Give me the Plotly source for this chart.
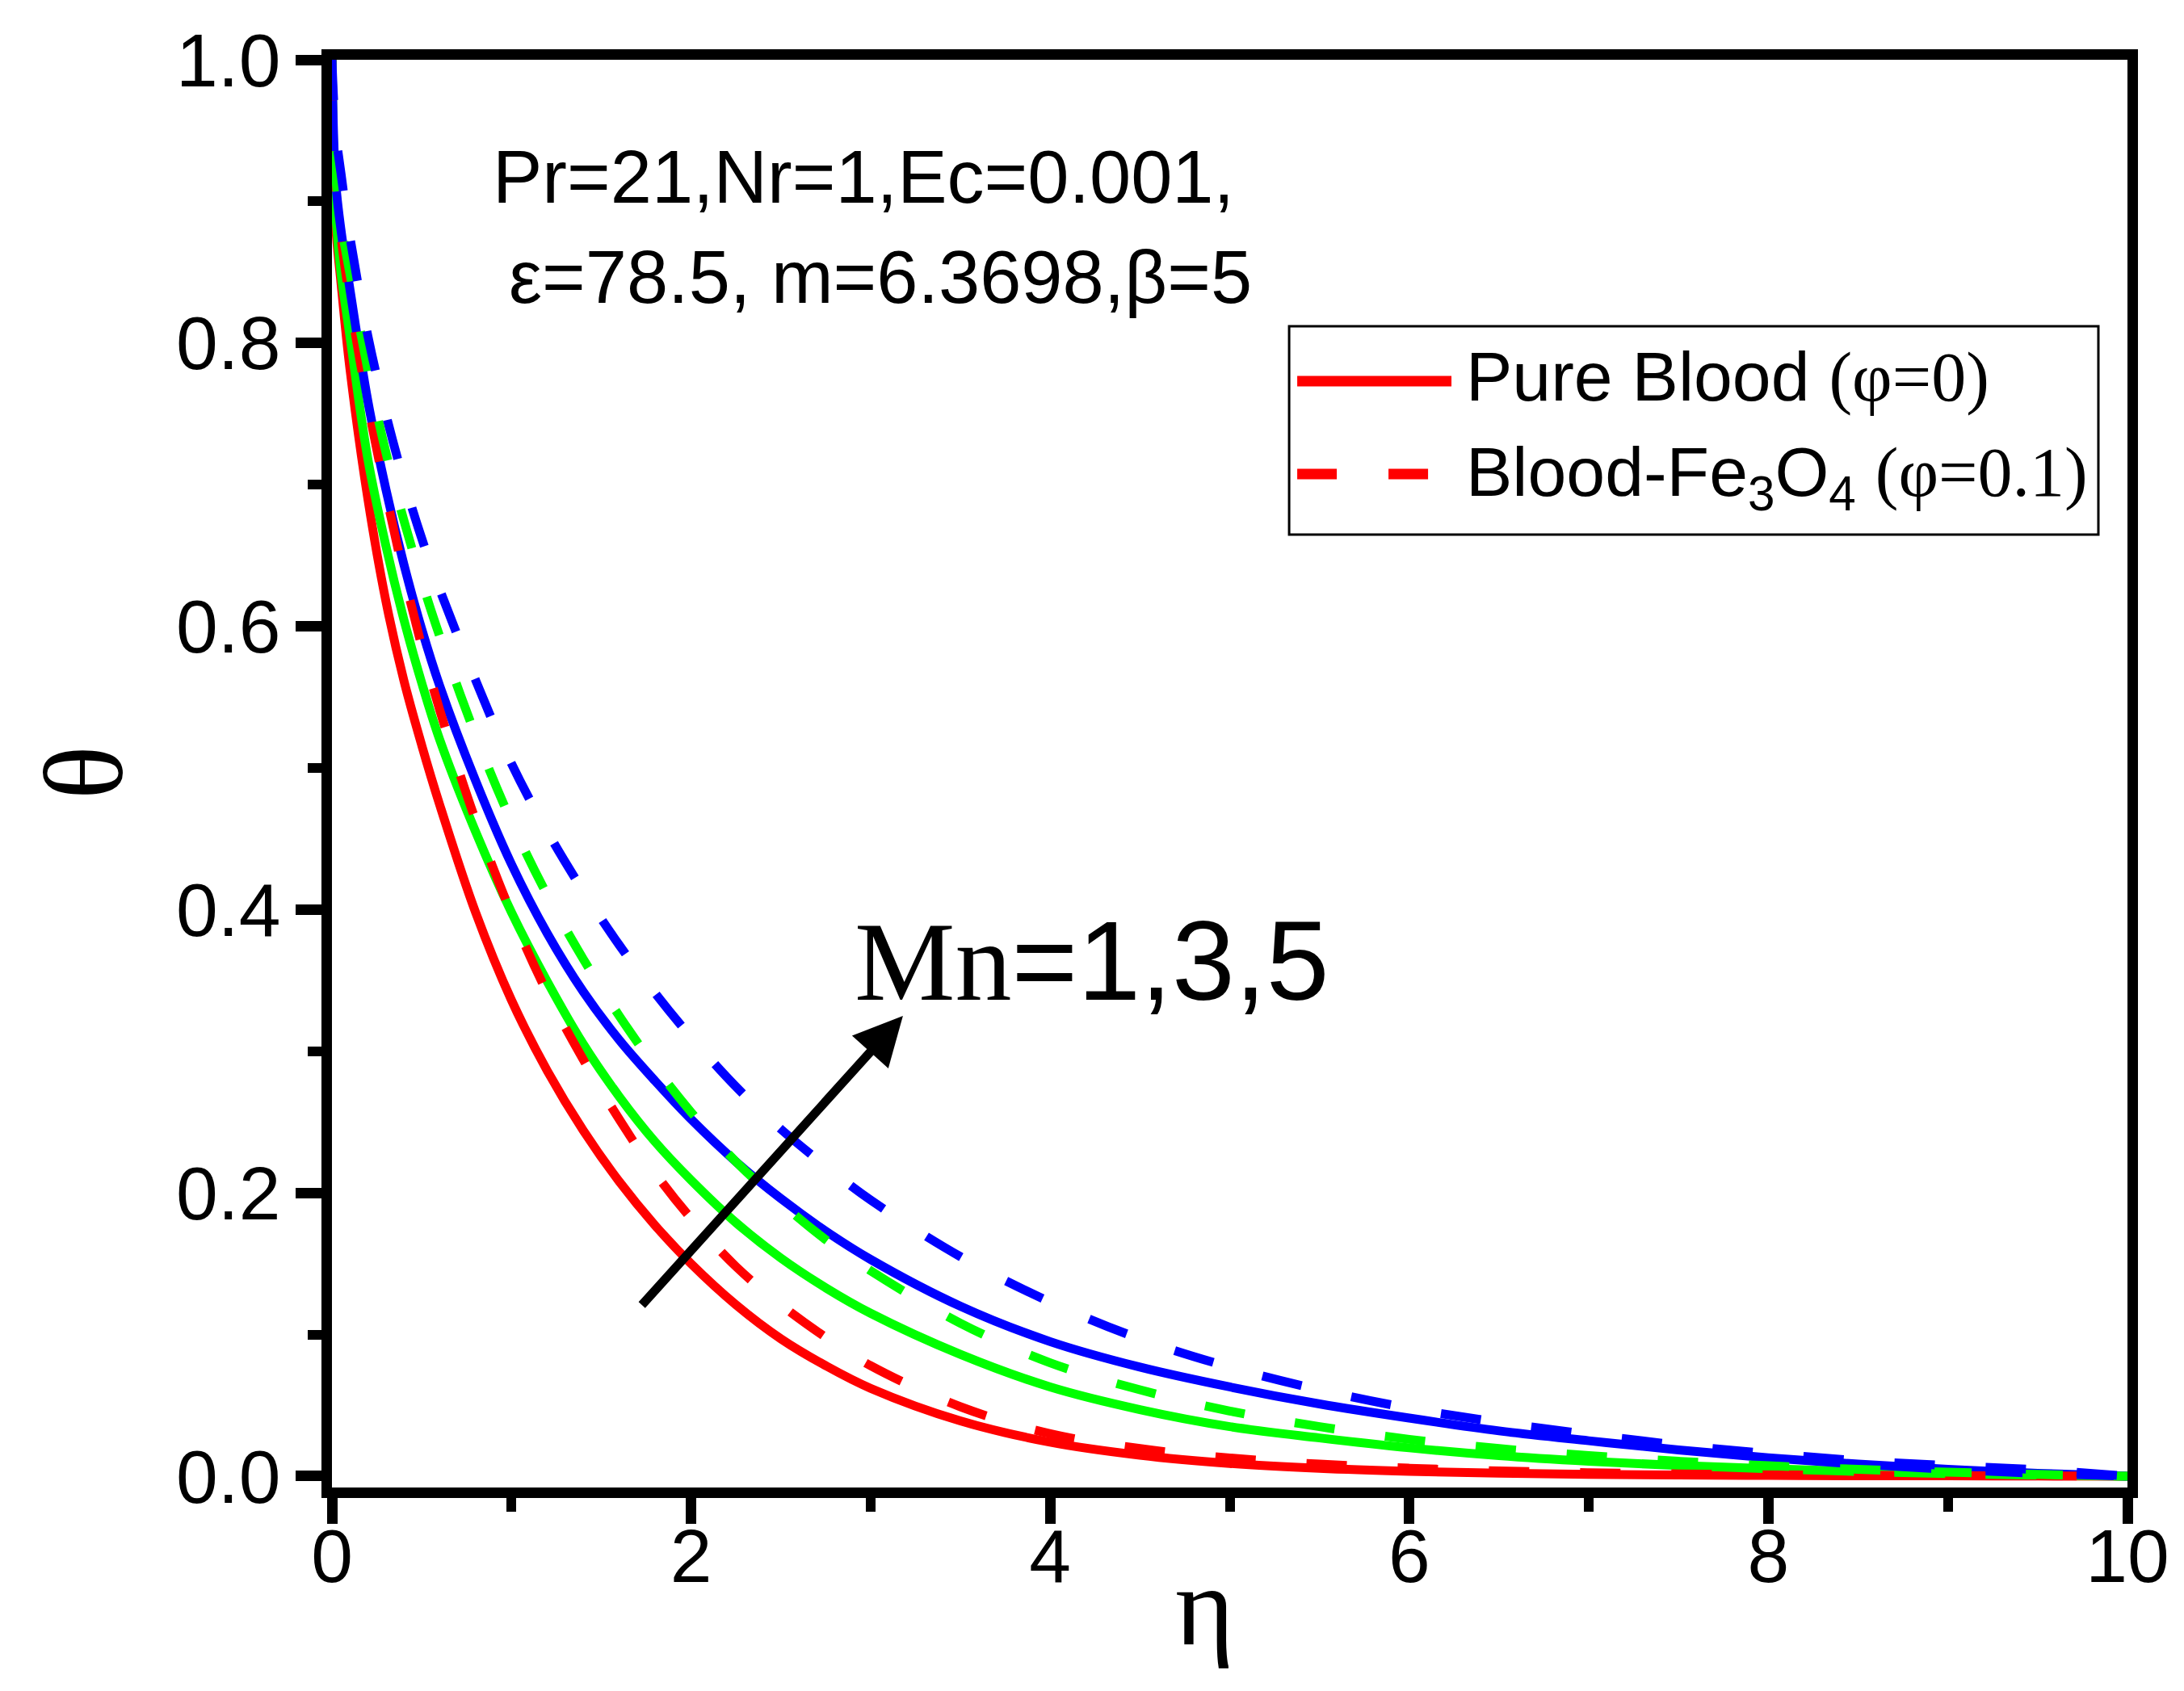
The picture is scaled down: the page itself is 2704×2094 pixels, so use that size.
import plotly.graph_objects as go

# eta grid and temperature profiles
eta = [0, 0.02, 0.05, 0.1, 0.2, 0.3, 0.4, 0.5, 0.6, 0.8, 1.0, 1.2, 1.4, 1.6, 1.8,
       2.0, 2.25, 2.5, 2.75, 3.0, 3.5, 4.0, 4.5, 5.0, 5.5, 6.0, 6.5, 7.0, 7.5,
       8.0, 8.5, 9.0, 9.5, 10.0]

# pure blood (phi=0), Mn = 1, 3, 5
theta_pure_mn1 = [1.0, 0.885, 0.843, 0.782, 0.69, 0.618, 0.562, 0.516, 0.474, 0.398,
                  0.336, 0.286, 0.244, 0.208, 0.177, 0.150, 0.121, 0.097, 0.078, 0.062,
                  0.039, 0.024, 0.0148, 0.009, 0.0055, 0.0034, 0.0021, 0.0013, 0.0008,
                  0.0005, 0.0003, 0.0002, 0.0001, 0.0]
theta_pure_mn3 = [1.0, 0.895, 0.85, 0.805, 0.718, 0.657, 0.605, 0.56, 0.52, 0.455,
                  0.398, 0.349, 0.305, 0.268, 0.236, 0.209, 0.179, 0.154, 0.133, 0.115,
                  0.086, 0.063, 0.047, 0.035, 0.027, 0.020, 0.0145, 0.0105, 0.0075,
                  0.0052, 0.0033, 0.0018, 0.0008, 0.0]
theta_pure_mn5 = [1.0, 0.915, 0.88, 0.838, 0.759, 0.697, 0.644, 0.598, 0.558, 0.491,
                  0.432, 0.383, 0.342, 0.308, 0.279, 0.252, 0.222, 0.196, 0.173, 0.153,
                  0.12, 0.095, 0.077, 0.063, 0.051, 0.041, 0.032, 0.025, 0.0185,
                  0.013, 0.0085, 0.0048, 0.002, 0.0]

# blood-Fe3O4 (phi=0.1), Mn = 1, 3, 5
theta_fe_mn1 = [1.0, 0.91, 0.875, 0.83, 0.757, 0.694, 0.637, 0.586, 0.541, 0.463,
                0.397, 0.341, 0.294, 0.252, 0.214, 0.182, 0.148, 0.121, 0.098, 0.078,
                0.049, 0.030, 0.0195, 0.0128, 0.0085, 0.0056, 0.0037, 0.0024, 0.0016,
                0.001, 0.0006, 0.0004, 0.0002, 0.0]
theta_fe_mn3 = [1.0, 0.92, 0.885, 0.849, 0.781, 0.723, 0.675, 0.632, 0.593, 0.523,
                0.462, 0.41, 0.365, 0.325, 0.289, 0.257, 0.222, 0.193, 0.167, 0.145,
                0.108, 0.080, 0.061, 0.046, 0.035, 0.026, 0.0195, 0.0145, 0.0105,
                0.0074, 0.0048, 0.0028, 0.0012, 0.0]
theta_fe_mn5 = [1.0, 0.95, 0.92, 0.875, 0.805, 0.75, 0.703, 0.662, 0.626, 0.562,
                0.503, 0.455, 0.413, 0.375, 0.341, 0.31, 0.275, 0.245, 0.219, 0.195,
                0.155, 0.123, 0.097, 0.077, 0.061, 0.048, 0.038, 0.0295, 0.022,
                0.016, 0.011, 0.0075, 0.0045, 0.0]

colors = ['#FF0000', '#00FF00', '#0000FF']
solid_series = [theta_pure_mn1, theta_pure_mn3, theta_pure_mn5]
dash_series = [theta_fe_mn1, theta_fe_mn3, theta_fe_mn5]
mn_labels = ['1', '3', '5']

SANS = 'Liberation Sans, Arial, sans-serif'
SERIF = 'Liberation Serif, Times New Roman, serif'
DASH = '50px,63px'
LW = 11

fig = go.Figure()

for i in range(3):
    fig.add_trace(go.Scatter(x=eta, y=solid_series[i], mode='lines',
                             name='Pure Blood, Mn=' + mn_labels[i],
                             line=dict(color=colors[i], width=LW, shape='spline', smoothing=1.0)))
for i in range(3):
    fig.add_trace(go.Scatter(x=eta, y=dash_series[i], mode='lines',
                             name='Blood-Fe3O4, Mn=' + mn_labels[i],
                             line=dict(color=colors[i], width=LW, dash=DASH,
                                       shape='spline', smoothing=1.0)))

axis_style = dict(
    showline=True, linewidth=13, linecolor='black', mirror=True,
    showgrid=False, zeroline=False,
    ticks='outside', ticklen=32, tickwidth=13, tickcolor='black',
    tickfont=dict(family=SANS, size=93, color='black'),
)

fig.update_xaxes(range=[0, 10], tickvals=[0, 2, 4, 6, 8, 10],
                 ticklabelstandoff=-40,
                 minor=dict(ticks='outside', ticklen=17, tickwidth=12,
                            tickcolor='black', tickvals=[1, 3, 5, 7, 9]),
                 **axis_style)
fig.update_yaxes(range=[-0.008, 1.0], tickvals=[0, 0.2, 0.4, 0.6, 0.8, 1.0],
                 ticktext=['0.0', '0.2', '0.4', '0.6', '0.8', '1.0'],
                 minor=dict(ticks='outside', ticklen=17, tickwidth=12,
                            tickcolor='black', tickvals=[0.1, 0.3, 0.5, 0.7, 0.9]),
                 **axis_style)

annotations = [
    # axis titles
    dict(x=0.486, y=-0.083, xref='paper', yref='paper', text='η', showarrow=False,
         font=dict(family=SERIF, size=140), xanchor='center', yanchor='middle'),
    dict(x=-0.138, y=0.5006, xref='paper', yref='paper', text='θ', showarrow=False,
         textangle=-90, font=dict(family=SERIF, size=140), xanchor='center', yanchor='middle'),
    # parameter text
    dict(x=0.0888, y=0.918, xref='paper', yref='paper', text='Pr=21,Nr=1,Ec=0.001,',
         showarrow=False, font=dict(family=SANS, size=92), xanchor='left', yanchor='middle'),
    dict(x=0.0978, y=0.848, xref='paper', yref='paper', text='ε=78.5, m=6.3698,β=5',
         showarrow=False, font=dict(family=SANS, size=92), xanchor='left', yanchor='middle'),
    # Mn label and arrow
    dict(x=0.290, y=0.369, xref='paper', yref='paper',
         text="<span style='font-family:Liberation Serif'>Mn</span>=1,3,5",
         showarrow=False, font=dict(family=SANS, size=140), xanchor='left', yanchor='middle'),
    dict(x=3.18, y=0.325, ax=1.72, ay=0.12, xref='x', yref='y', axref='x', ayref='y',
         text='', showarrow=True, arrowhead=2, arrowsize=1.1, arrowwidth=11, arrowcolor='black'),
    # legend text
    dict(x=0.6305, y=0.778, xref='paper', yref='paper',
         text="Pure Blood <span style='font-family:Liberation Serif'>(φ=0)</span>",
         showarrow=False, font=dict(family=SANS, size=86), xanchor='left', yanchor='middle'),
    dict(x=0.6305, y=0.708, xref='paper', yref='paper',
         text="Blood-Fe<sub>3</sub>O<sub>4</sub> <span style='font-family:Liberation Serif'>(φ=0.1)</span>",
         showarrow=False, font=dict(family=SANS, size=86), xanchor='left', yanchor='middle'),
]

shapes = [
    # legend box and samples
    dict(type='rect', xref='paper', yref='paper', x0=0.5331, x1=0.9838, y0=0.6674, y1=0.8133,
         line=dict(color='black', width=3), fillcolor='white', layer='below'),
    dict(type='line', xref='paper', yref='paper', x0=0.5376, x1=0.6235, y0=0.7749, y1=0.7749,
         line=dict(color='#FF0000', width=13)),
    dict(type='line', xref='paper', yref='paper', x0=0.5376, x1=0.6113, y0=0.7098, y1=0.7098,
         line=dict(color='#FF0000', width=13, dash='49px,64px')),
]

fig.update_layout(
    width=2704, height=2094,
    margin=dict(l=403, r=78, t=66, b=260),
    paper_bgcolor='white', plot_bgcolor='white',
    showlegend=False,
    font=dict(family=SANS, size=93, color='black'),
    annotations=annotations,
    shapes=shapes,
)

fig.write_html('out.html')
